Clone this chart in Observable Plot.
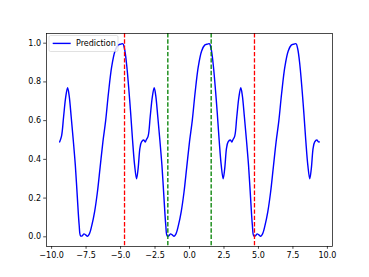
<!DOCTYPE html>
<html><head><meta charset="utf-8">
<script src="https://cdn.jsdelivr.net/npm/d3@7"></script>
<script src="https://cdn.jsdelivr.net/npm/@observablehq/plot@0.6"></script>
<style>body{margin:0;background:#fff;} svg{font-family:"DejaVu Sans";}</style>
</head><body><div id="chart"></div>
<script>
const xs = [
 -9.42,-9.28,-9.13,-8.98,-8.84,-8.73,-8.58,-8.43,-8.28,-8.13,-8.00,-7.90,-7.78,-7.66,-7.53,-7.40,-7.26,-7.08,-6.88,-6.68,-6.48,-6.28,-6.08,-5.88,-5.64,-5.40,-5.18,-4.98,-4.83,-4.71,-4.56,-4.32,-4.13,-3.98,-3.84,-3.73,-3.59,-3.48,-3.33,-3.20,
 -3.14,-3.00,-2.85,-2.70,-2.56,-2.45,-2.30,-2.15,-2.00,-1.85,-1.72,-1.62,-1.50,-1.38,-1.25,-1.12,-0.98,-0.80,-0.60,-0.40,-0.20,0.00,0.20,0.40,0.64,0.88,1.10,1.30,1.45,1.57,1.72,1.96,2.15,2.30,2.44,2.55,2.69,2.80,2.95,3.08,
 3.14,3.28,3.43,3.58,3.72,3.83,3.98,4.13,4.28,4.43,4.56,4.66,4.78,4.90,5.03,5.16,5.30,5.48,5.68,5.88,6.08,6.28,6.48,6.68,6.92,7.16,7.38,7.58,7.73,7.85,8.00,8.24,8.43,8.58,8.72,8.83,8.97,9.08,9.23,9.36,9.42
];
const ys = [
 0.49,0.52,0.62,0.72,0.77,0.73,0.62,0.50,0.37,0.20,0.06,0.005,0.005,0.015,0.01,0.003,0.015,0.06,0.13,0.23,0.36,0.49,0.60,0.74,0.88,0.96,0.99,0.995,0.997,0.97,0.89,0.69,0.50,0.37,0.30,0.35,0.46,0.49,0.50,0.49,
 0.50,0.52,0.62,0.72,0.77,0.73,0.62,0.50,0.37,0.20,0.06,0.005,0.005,0.015,0.01,0.003,0.015,0.06,0.13,0.23,0.36,0.49,0.60,0.74,0.88,0.96,0.99,0.995,0.997,0.97,0.89,0.69,0.50,0.37,0.30,0.35,0.46,0.49,0.50,0.49,
 0.50,0.52,0.62,0.72,0.77,0.73,0.62,0.50,0.37,0.20,0.06,0.005,0.005,0.015,0.01,0.003,0.015,0.06,0.13,0.23,0.36,0.49,0.60,0.74,0.88,0.96,0.99,0.995,0.997,0.97,0.89,0.69,0.50,0.37,0.30,0.35,0.46,0.49,0.50,0.49,0.49
];
const redLines = [-4.712, 4.712];
const greenLines = [-1.571, 1.571];
const xTicks = [-10, -7.5, -5, -2.5, 0, 2.5, 5, 7.5, 10];
const yTicks = [0, 0.2, 0.4, 0.6, 0.8, 1.0];
const seriesName = "Prediction";

const data = xs.map((x, i) => ({x, y: ys[i]}));
const fmt = d => d.toFixed(1).replace("-", "\u2212");
const dash = "4.4,1.9";

const chart = Plot.plot({
  width: 369, height: 277,
  marginLeft: 46, marginRight: 37, marginTop: 33, marginBottom: 31,
  x: {domain: [-10.37, 10.37]},
  y: {domain: [-0.05, 1.05]},
  style: {fontFamily: "DejaVu Sans", fontSize: "8px", color: "black", background: "white"},
  marks: [
    Plot.axisX(xTicks, {tickSize: 2.8, tickPadding: 2.6, tickFormat: fmt, label: null, strokeWidth: 0.7}),
    Plot.axisY(yTicks, {tickSize: 2.8, tickPadding: 2.6, tickFormat: fmt, label: null, strokeWidth: 0.7}),
    Plot.line(data, {x: "x", y: "y", stroke: "#0000ff", strokeWidth: 1.4, curve: "catmull-rom"}),
    Plot.ruleX(redLines, {stroke: "#ff0000", strokeWidth: 1.3, strokeDasharray: dash}),
    Plot.ruleX(greenLines, {stroke: "#008000", strokeWidth: 1.3, strokeDasharray: dash}),
    Plot.frame({stroke: "black", strokeWidth: 0.7})
  ]
});
document.getElementById("chart").appendChild(chart);

// legend (upper left, inside the axes)
const svg = d3.select(chart);
const lg = svg.append("g");
lg.append("rect").attr("x", 49).attr("y", 35.5).attr("width", 69).attr("height", 16).attr("rx", 1.5)
  .attr("fill", "white").attr("fill-opacity", 0.8).attr("stroke", "#cccccc").attr("stroke-width", 0.6);
lg.append("line").attr("x1", 52.7).attr("x2", 70.7).attr("y1", 43.4).attr("y2", 43.4)
  .attr("stroke", "#0000ff").attr("stroke-width", 1.4);
lg.append("text").attr("x", 76).attr("y", 43.4).attr("dy", "0.35em").attr("text-anchor", "start")
  .attr("font-family", "DejaVu Sans").attr("font-size", "8px").attr("fill", "black").text(seriesName);
</script>
</body></html>
